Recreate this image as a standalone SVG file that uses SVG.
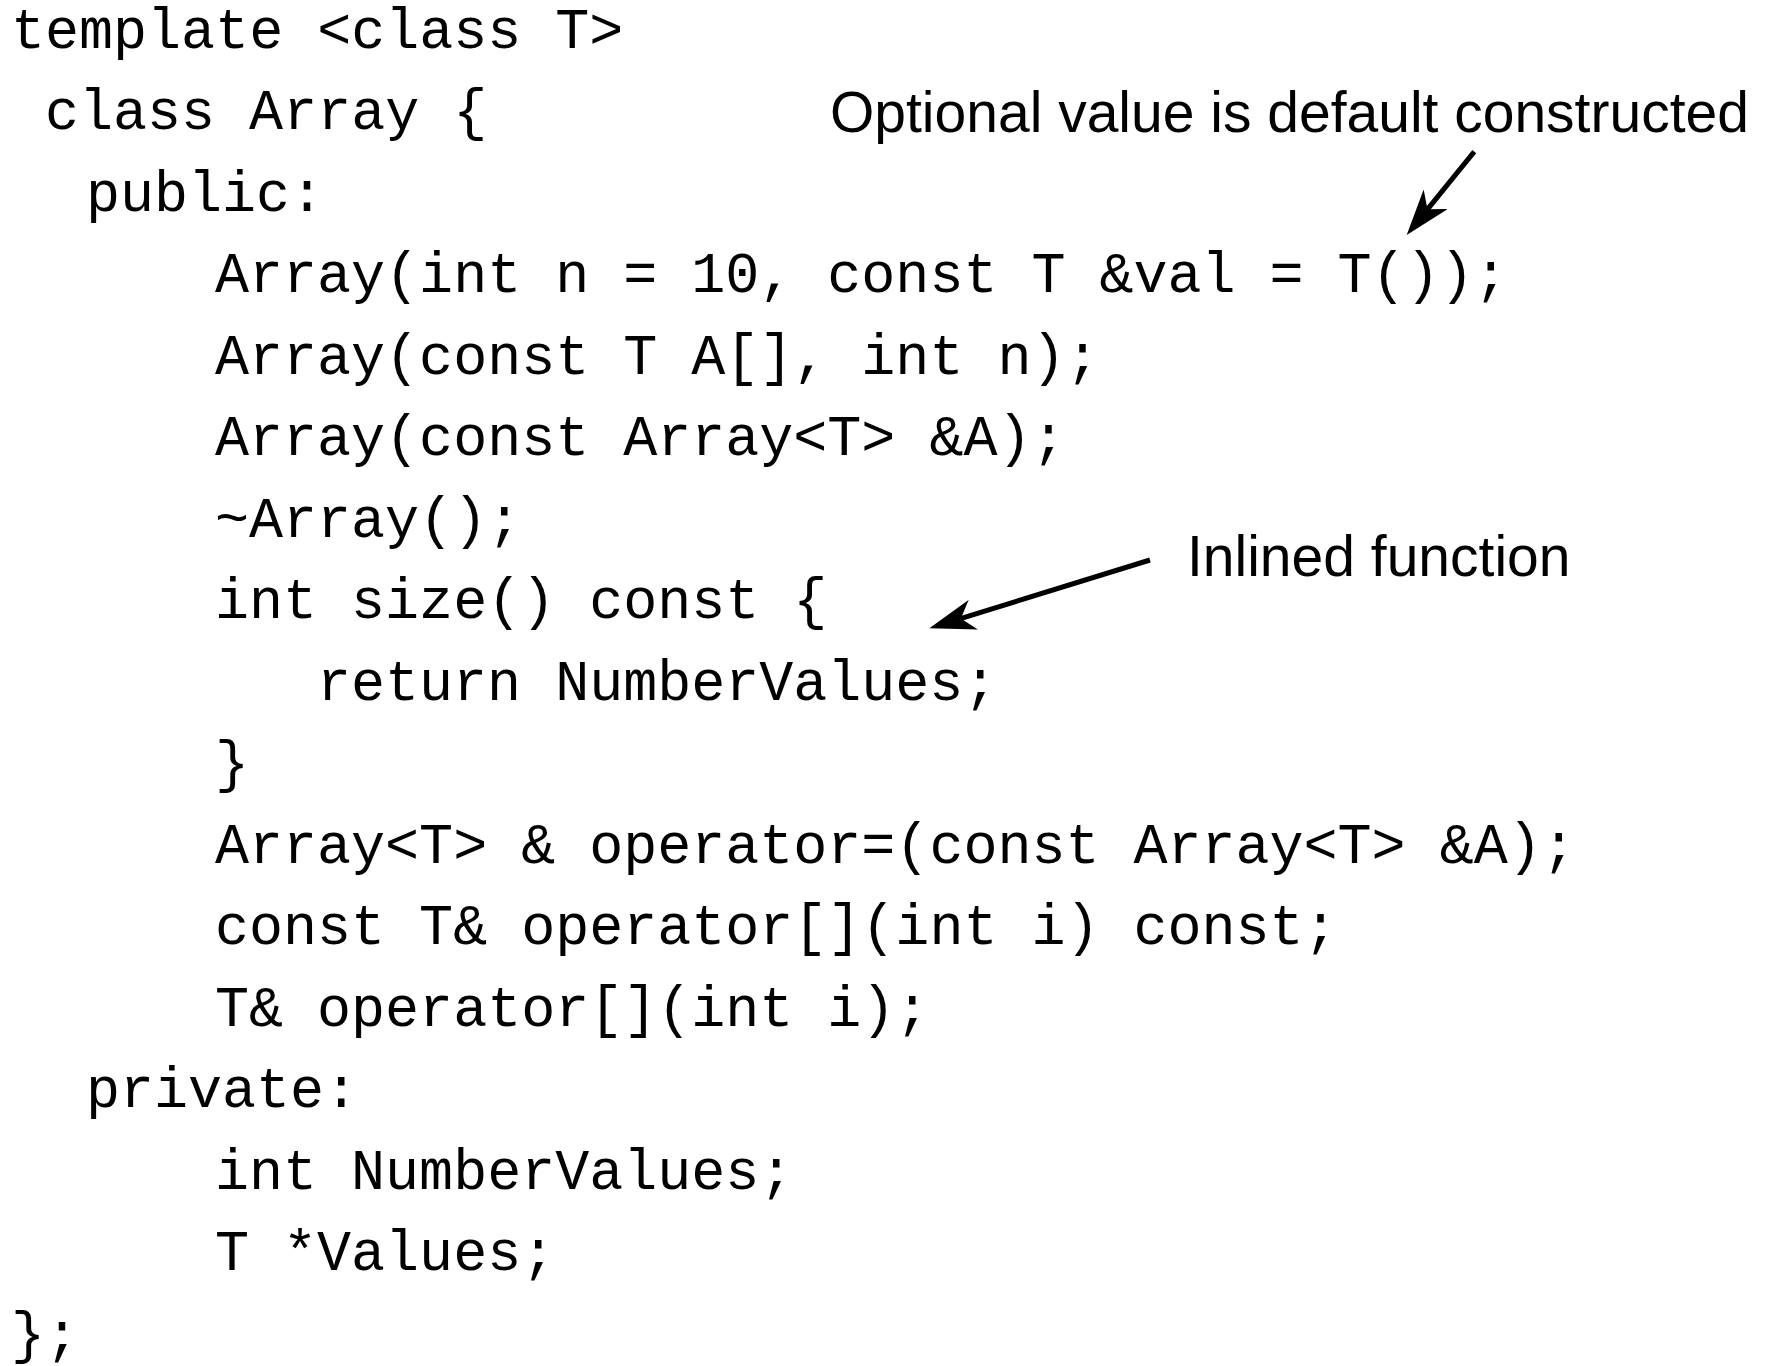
<svg xmlns="http://www.w3.org/2000/svg" width="1765" height="1366" viewBox="0 0 1765 1366">
  <style>
    .code { font-family: "Liberation Mono", "Courier New", monospace; font-size: 56.7px; fill: #000; }
    .note { font-family: "Liberation Sans", Arial, Helvetica, sans-serif; font-size: 57px; fill: #000; }
    .arrow { stroke: #000; stroke-width: 5; fill: none; marker-end: url(#head); }
  </style>
  <defs>
    <marker id="head" markerUnits="userSpaceOnUse" viewBox="0 0 46 31" markerWidth="46" markerHeight="31" refX="16" refY="15.5" orient="auto">
      <path d="M0,0 L46,15.5 L0,31 L13,15.5 Z" fill="#000"/>
    </marker>
  </defs>
  <rect width="1765" height="1366" fill="#fff"/>

  <!-- class template source listing; column = 11 + 34 * indent -->
  <g id="code">
    <text class="code" x="11" y="47.5">template &lt;class T&gt;</text>
    <text class="code" x="45" y="129">class Array {</text>
    <text class="code" x="86" y="210.5">public:</text>
    <text class="code" x="215" y="292">Array(int n = 10, const T &amp;val = T());</text>
    <text class="code" x="215" y="373.5">Array(const T A[], int n);</text>
    <text class="code" x="215" y="455">Array(const Array&lt;T&gt; &amp;A);</text>
    <text class="code" x="215" y="536.5">~Array();</text>
    <text class="code" x="215" y="618">int size() const {</text>
    <text class="code" x="317" y="699.5">return NumberValues;</text>
    <text class="code" x="215" y="781">}</text>
    <text class="code" x="215" y="862.5">Array&lt;T&gt; &amp; operator=(const Array&lt;T&gt; &amp;A);</text>
    <text class="code" x="215" y="944">const T&amp; operator[](int i) const;</text>
    <text class="code" x="215" y="1025.5">T&amp; operator[](int i);</text>
    <text class="code" x="86" y="1107">private:</text>
    <text class="code" x="215" y="1188.5">int NumberValues;</text>
    <text class="code" x="215" y="1270">T *Values;</text>
    <text class="code" x="11" y="1351.5">};</text>
  </g>

  <g id="note-default-value">
    <text class="note" x="830" y="131.7">Optional value is default constructed</text>
  </g>

  <g id="note-inlined">
    <text class="note" x="1187" y="576">Inlined function</text>
  </g>

  <g id="connectors">
    <line class="arrow" x1="1474.3" y1="151.7" x2="1425.6" y2="211.7"/>
    <line class="arrow" x1="1150" y1="560" x2="958" y2="619.4"/>
  </g>
</svg>
